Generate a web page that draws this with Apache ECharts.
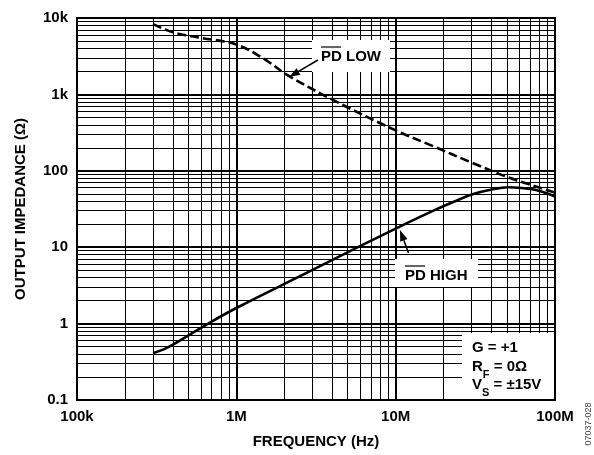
<!DOCTYPE html>
<html><head><meta charset="utf-8">
<script src="https://cdn.jsdelivr.net/npm/echarts@6/dist/echarts.min.js"></script>
<style>html,body{margin:0;padding:0;background:#fff}#c{width:594px;height:455px}</style>
</head><body><div id="c"></div>
<script>
// ---- data ----
const xTickValues = [1e5, 1e6, 1e7, 1e8];
const xTickLabels = ['100k', '1M', '10M', '100M'];
const yTickValues = [0.1, 1, 10, 100, 1000, 10000];
const yTickLabels = ['0.1', '1', '10', '100', '1k', '10k'];

const pdLowFreq = [3e5, 4e5, 6e5, 1e6, 1.5e6, 2.07e6, 4e6, 1e7, 1.7e7, 3e7, 5.1e7, 1e8];
const pdLowZ    = [8300, 6500, 5500, 4500, 2900, 1815, 855, 338, 212, 128, 82, 52];

const pdHighFreq = [3e5, 3.5e5, 4e5, 6.5e5, 1e6, 2.7e6, 5.8e6, 1e7, 1.7e7, 2.3e7, 3e7, 4e7, 5.1e7, 7e7, 8.5e7, 1e8];
const pdHighZ    = [0.41, 0.46, 0.53, 0.97, 1.6, 4.5, 10, 17.5, 29.6, 39, 49, 57, 61, 58, 52.5, 46];

// minor grid positions (2..9 within each decade)
const xDecades = [1e5, 1e6, 1e7];
const yDecades = [0.1, 1, 10, 100, 1000];
const minorSteps = [2, 3, 4, 5, 6, 7, 8, 9];

// ---- build ----
const FONT = '"Liberation Sans", Arial, sans-serif';
const xMinor = [], yMinor = [];
xDecades.forEach(d => minorSteps.forEach(k => xMinor.push(k * d)));
yDecades.forEach(d => minorSteps.forEach(k => yMinor.push(+(k * d).toPrecision(6))));

function lookup(vals, labels, v) {
  const lv = Math.round(Math.log10(v));
  for (let i = 0; i < vals.length; i++) if (Math.round(Math.log10(vals[i])) === lv) return labels[i];
  return '';
}
const zip = (a, b) => a.map((v, i) => [v, b[i]]);

function arrow(tail, tip, len, half) {
  const dx = tip[0] - tail[0], dy = tip[1] - tail[1];
  const L = Math.hypot(dx, dy), ux = dx / L, uy = dy / L;
  const bx = tip[0] - len * ux, by = tip[1] - len * uy;
  const nx = uy, ny = -ux;
  return [
    {type: 'polyline', z: 100, shape: {points: [tail, [bx, by]]}, style: {stroke: '#000', lineWidth: 1.5, fill: null}},
    {type: 'polygon', z: 100, shape: {points: [tip, [bx + half * nx, by + half * ny], [bx - half * nx, by - half * ny]]}, style: {fill: '#000'}}
  ];
}

const chart = echarts.init(document.getElementById('c'), null, {renderer: 'canvas'});
const txt = {fontFamily: FONT, fontWeight: 'bold', fontSize: 15, fill: '#000'};
const richSub = {
  a: {fontFamily: FONT, fontWeight: 'bold', fontSize: 15, lineHeight: 26, fill: '#000', verticalAlign: 'middle'},
  b: {fontFamily: FONT, fontWeight: 'bold', fontSize: 11, lineHeight: 11, fill: '#000', verticalAlign: 'bottom'}
};

chart.setOption({
  animation: false,
  backgroundColor: '#fff',
  grid: {left: 77, right: 39, top: 18, bottom: 55, show: true, borderColor: '#000', borderWidth: 2, backgroundColor: 'transparent'},
  xAxis: {
    type: 'log', logBase: 10, min: 1e5, max: 1e8,
    axisLine: {show: true, lineStyle: {color: '#000', width: 2}},
    axisTick: {show: false},
    axisLabel: {margin: 9, color: '#000', fontFamily: FONT, fontWeight: 'bold', fontSize: 15,
      formatter: v => lookup(xTickValues, xTickLabels, v)},
    splitLine: {show: true, lineStyle: {color: '#000', width: 2}}
  },
  yAxis: {
    type: 'log', logBase: 10, min: 0.1, max: 10000,
    axisLine: {show: true, lineStyle: {color: '#000', width: 2}},
    axisTick: {show: false},
    axisLabel: {margin: 9, color: '#000', fontFamily: FONT, fontWeight: 'bold', fontSize: 15,
      formatter: v => lookup(yTickValues, yTickLabels, v)},
    splitLine: {show: true, lineStyle: {color: '#000', width: 2}}
  },
  series: [
    {
      type: 'line', data: [], z: 1, silent: true,
      markLine: {
        silent: true, symbol: 'none', animation: false,
        label: {show: false},
        lineStyle: {color: '#000', width: 1, type: 'solid'},
        emphasis: {disabled: true},
        data: xMinor.map(v => ({xAxis: v})).concat(yMinor.map(v => ({yAxis: v})))
      }
    },
    {
      name: 'PD LOW', type: 'line', z: 5, data: zip(pdLowFreq, pdLowZ),
      showSymbol: false, smooth: 0.35,
      lineStyle: {color: '#000', width: 2.6, type: [9, 4]}
    },
    {
      name: 'PD HIGH', type: 'line', z: 5, data: zip(pdHighFreq, pdHighZ),
      showSymbol: false, smooth: 0.4,
      lineStyle: {color: '#000', width: 2.6, type: 'solid'}
    }
  ],
  graphic: [
    // axis titles
    {type: 'text', z: 100, x: 21, y: 209, rotation: Math.PI / 2,
      style: Object.assign({text: 'OUTPUT IMPEDANCE (Ω)', align: 'center', verticalAlign: 'middle'}, txt)},
    {type: 'text', z: 100, x: 316, y: 442,
      style: Object.assign({text: 'FREQUENCY (Hz)', align: 'center', verticalAlign: 'middle'}, txt)},
    // PD LOW label
    {type: 'rect', z: 90, shape: {x: 312, y: 40, width: 78, height: 32}, style: {fill: '#fff'}},
    {type: 'text', z: 100, x: 321, y: 57, style: Object.assign({text: 'PD LOW', align: 'left', verticalAlign: 'middle'}, txt)},
    {type: 'line', z: 100, shape: {x1: 321, y1: 47, x2: 341, y2: 47}, style: {stroke: '#000', lineWidth: 1.2}},
    ...arrow([318, 60], [289, 77], 11, 3.8),
    // PD HIGH label
    {type: 'rect', z: 90, shape: {x: 395, y: 259, width: 83, height: 28}, style: {fill: '#fff'}},
    {type: 'text', z: 100, x: 405, y: 276, style: Object.assign({text: 'PD HIGH', align: 'left', verticalAlign: 'middle'}, txt)},
    {type: 'line', z: 100, shape: {x1: 405, y1: 266, x2: 425, y2: 266}, style: {stroke: '#000', lineWidth: 1.2}},
    ...arrow([408.5, 253], [400, 230], 11, 3.8),
    // conditions box
    {type: 'rect', z: 90, shape: {x: 462, y: 333, width: 92, height: 66}, style: {fill: '#fff'}},
    {type: 'text', z: 100, x: 472, y: 348, style: Object.assign({text: 'G = +1', align: 'left', verticalAlign: 'middle'}, txt)},
    {type: 'text', z: 100, x: 472, y: 367, style: {text: '{a|R}{b|F}{a| = 0Ω}', align: 'left', verticalAlign: 'middle', rich: richSub}},
    {type: 'text', z: 100, x: 472, y: 385, style: {text: '{a|V}{b|S}{a| = ±15V}', align: 'left', verticalAlign: 'middle', rich: richSub}},
    // figure id
    {type: 'text', z: 100, x: 589, y: 424, rotation: Math.PI / 2,
      style: {text: '07037-028', align: 'center', verticalAlign: 'middle', fontFamily: FONT, fontSize: 9, fill: '#444'}}
  ]
});
</script>
</body></html>
